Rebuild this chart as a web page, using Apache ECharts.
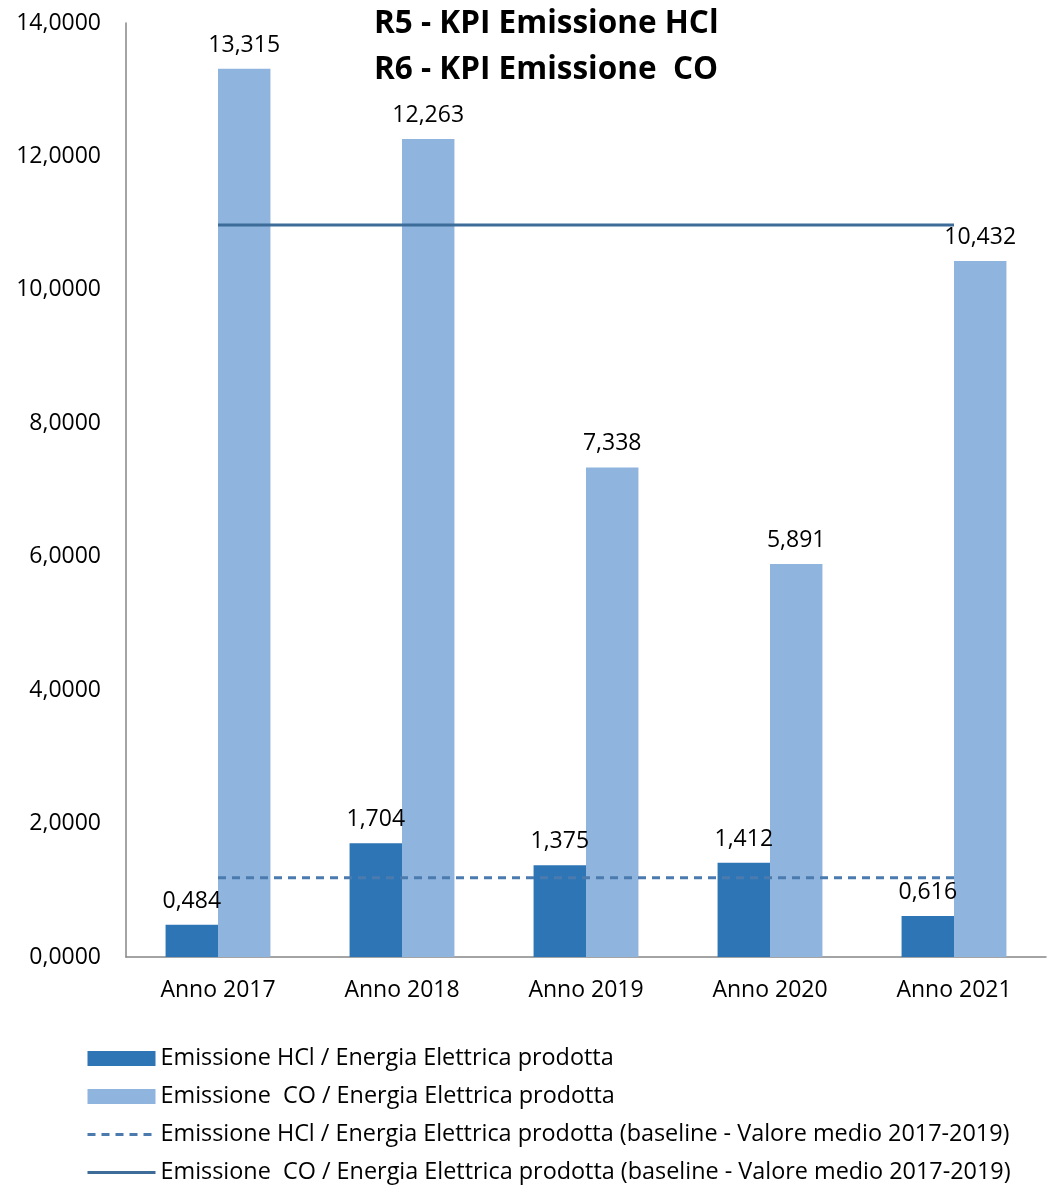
<!DOCTYPE html>
<html>
<head>
<meta charset="utf-8">
<script src="https://cdn.jsdelivr.net/npm/echarts@6/dist/echarts.min.js"></script>
<style>html,body{margin:0;padding:0;background:#fff;}#c{width:1051px;height:1186px;}</style>
</head>
<body>
<div id="c"></div>
<script>
const categories = ['Anno 2017', 'Anno 2018', 'Anno 2019', 'Anno 2020', 'Anno 2021'];
const hclValues = [0.484, 1.704, 1.375, 1.412, 0.616];
const coValues = [13.315, 12.263, 7.338, 5.891, 10.432];
const hclBaseline = [1.1877, 1.1877, 1.1877, 1.1877, 1.1877];
const coBaseline = [10.972, 10.972, 10.972, 10.972, 10.972];
const seriesNames = [
  'Emissione HCl / Energia Elettrica prodotta',
  'Emissione  CO / Energia Elettrica prodotta',
  'Emissione HCl / Energia Elettrica prodotta (baseline - Valore medio 2017-2019)',
  'Emissione  CO / Energia Elettrica prodotta (baseline - Valore medio 2017-2019)'
];
const titleLines = ['R5 - KPI Emissione HCl', 'R6 - KPI Emissione  CO'];

const FONT = 'Open Sans';
const FS = 23;
const chart = echarts.init(document.getElementById('c'));
const fmt3 = v => v.toFixed(3).replace('.', ',');
chart.setOption({
  animation: false,
  backgroundColor: '#fff',
  textStyle: { fontFamily: FONT },
  title: {
    text: titleLines.join('\n'),
    left: 369, top: -4,
    textStyle: { fontFamily: FONT, fontWeight: 'bold', fontSize: 31.5, lineHeight: 46, color: '#000' }
  },
  legend: {
    orient: 'vertical', left: 81, top: 1041, height: 150,
    itemWidth: 68, itemHeight: 15, itemGap: 13,
    textStyle: { fontFamily: FONT, fontSize: 23.4, lineHeight: 25, color: '#000' },
    data: [
      { name: seriesNames[0], icon: 'rect' },
      { name: seriesNames[1], icon: 'rect' },
      { name: seriesNames[2], itemStyle: { opacity: 0 }, lineStyle: { width: 3 } },
      { name: seriesNames[3], itemStyle: { opacity: 0 }, lineStyle: { width: 3 } }
    ]
  },
  grid: { left: 126, right: 5, top: 23, bottom: 229, containLabel: false },
  xAxis: {
    type: 'category', data: categories,
    axisLine: { lineStyle: { color: '#868686', width: 1.5 } },
    axisTick: { show: false },
    axisLabel: { fontFamily: FONT, fontSize: FS, color: '#000', margin: 22 }
  },
  yAxis: {
    type: 'value', min: 0, max: 14, interval: 2,
    axisLine: { show: true, lineStyle: { color: '#868686', width: 1.5 } },
    axisTick: { show: false },
    splitLine: { show: false },
    axisLabel: { fontFamily: FONT, fontSize: FS, color: '#000', margin: 25,
      formatter: v => v.toFixed(4).replace('.', ',') }
  },
  series: [
    { name: seriesNames[0], type: 'bar', data: hclValues, barGap: '0%', barCategoryGap: '43%',
      itemStyle: { color: '#2E75B6' },
      label: { show: true, position: 'top', distance: 12, fontFamily: FONT, fontSize: FS, color: '#000', formatter: p => fmt3(p.value) } },
    { name: seriesNames[1], type: 'bar', data: coValues, barGap: '0%', barCategoryGap: '43%',
      itemStyle: { color: '#8FB4DE' },
      label: { show: true, position: 'top', distance: 12, fontFamily: FONT, fontSize: FS, color: '#000', formatter: p => fmt3(p.value) } },
    { name: seriesNames[2], type: 'line', data: hclBaseline, symbol: 'none', z: 5,
      itemStyle: { color: '#4B7BAE' },
      lineStyle: { color: '#4B7BAE', width: 3, type: [8, 6] } },
    { name: seriesNames[3], type: 'line', data: coBaseline, symbol: 'none', z: 5,
      itemStyle: { color: '#3D6C99' },
      lineStyle: { color: '#3D6C99', width: 3 } }
  ]
});
</script>
</body>
</html>
